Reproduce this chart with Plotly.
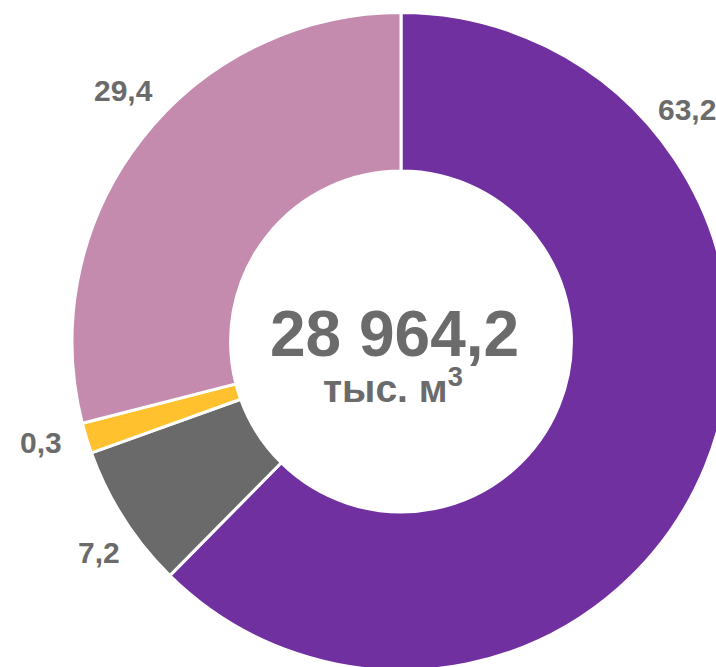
import plotly.graph_objects as go

# Data
categories = ["A", "B", "C", "D"]
shares = [62.4, 7.1, 1.5, 29.0]                # slice sizes as drawn (%)
share_labels = ["63,2", "7,2", "0,3", "29,4"]  # labels as printed
colors = ["#7030A0", "#6A6A6A", "#FFC12E", "#C48BAE"]
total_label = "28 964,2"
unit_label = "тыс. м<sup>3</sup>"

W, H = 740, 690
cx, cy, R = 401, 341.5, 329

fig = go.Figure()
fig.add_trace(go.Pie(
    labels=categories, values=shares, sort=False, direction="clockwise",
    rotation=0, hole=0.518, textinfo="none", hoverinfo="skip",
    marker=dict(colors=colors, line=dict(color="white", width=3)),
    domain=dict(x=[(cx - R) / W, (cx + R) / W], y=[1 - (cy + R) / H, 1 - (cy - R) / H]),
    showlegend=False,
))

label_pos = [(687, 109), (99.5, 552), (40.5, 442.5), (123, 90.5)]
for txt, (px, py) in zip(share_labels, label_pos):
    fig.add_annotation(x=px / W, y=1 - py / H, xref="paper", yref="paper",
                       xanchor="center", yanchor="middle",
                       text=txt, showarrow=False,
                       font=dict(family="Liberation Sans", size=30, color="#6B6B6B", weight="bold"))

fig.add_annotation(x=394 / W, y=1 - 334 / H, xref="paper", yref="paper", text=total_label,
                   xanchor="center", yanchor="middle", showarrow=False,
                   font=dict(family="Liberation Sans", size=64, color="#6B6B6B", weight="bold"))
fig.add_annotation(x=393 / W, y=1 - 385 / H, xref="paper", yref="paper", text=unit_label,
                   xanchor="center", yanchor="middle", showarrow=False,
                   font=dict(family="Liberation Sans", size=39, color="#6B6B6B", weight="bold"))

fig.update_layout(width=W, height=H, margin=dict(l=0, r=0, t=0, b=0),
                  paper_bgcolor="white", plot_bgcolor="white")

page_css = ("document.body.style.margin='0';"
            "document.documentElement.style.overflow='hidden';"
            "document.body.style.overflow='hidden';")
fig.write_html("out.html", post_script=page_css, config={"displayModeBar": False})
